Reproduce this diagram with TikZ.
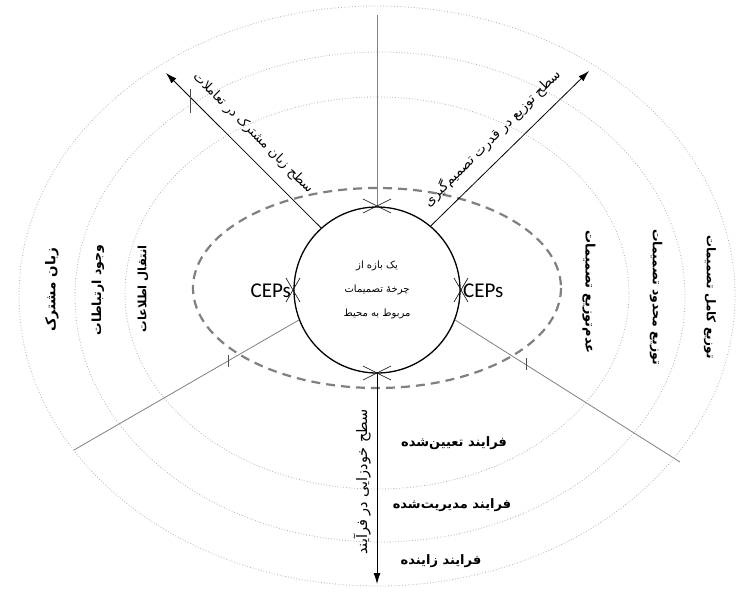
\documentclass[tikz,border=0pt]{standalone}
\usepackage{fontspec}
\usetikzlibrary{arrows.meta}
\TeXXeTstate=1
\newfontfamily\fa[Script=Arabic]{DejaVu Sans}
\newfontfamily\lat{Carlito}
\begin{document}
\begin{tikzpicture}[x=1pt,y=-1pt,
  ring/.style={gray!60, dotted, line width=0.8pt},
  dring/.style={gray, dash pattern=on 9pt off 6pt, line width=2.2pt},
  axisarrow/.style={black, line width=0.8pt, -{Latex[length=11pt,width=7pt]}},
  spoke/.style={gray, line width=0.8pt},
  xmark/.style={black, line width=0.6pt},
  tick/.style={black!70, line width=0.6pt},
  boldfa/.style={inner sep=1pt, font={\fa\bfseries\fontsize{#1}{#1}\selectfont}},
  armfa/.style={inner sep=1pt, font={\fa\fontsize{#1}{#1}\selectfont}},
  midfa/.style={inner sep=1pt, font={\fa\fontsize{10}{12}\selectfont}},
  cep/.style={inner sep=0pt, font={\lat\fontsize{21}{23}\selectfont}}
]
\fill[white] (0,0) rectangle (739,592);
\useasboundingbox (0,0) rectangle (739,592);

% concentric dotted rings
\draw[ring] (377,293) ellipse [x radius=252, y radius=196];
\draw[ring] (380,297) ellipse [x radius=305, y radius=245];
\draw[ring] (377,296) ellipse [x radius=358, y radius=290];

% dashed ellipse
\draw[dring] (377,288) ellipse [x radius=184, y radius=100];

% central circle
\node[circle, draw=black, line width=1.3pt, minimum size=166pt, inner sep=0pt] (C) at (377,290) {};

% free ends
\coordinate (topEnd) at (377,15);
\coordinate (ulTip) at (166,73);
\coordinate (urTip) at (589,71);
\coordinate (llEnd) at (74,450);
\coordinate (lrEnd) at (680,462);
\coordinate (bTip) at (377,584);

% spokes and arrows
\draw[spoke] (C.north) -- (topEnd);
\draw[spoke] (C.201) -- (llEnd);
\draw[spoke] (C.339) -- (lrEnd);
\draw[axisarrow] (C.132) -- (ulTip);
\draw[axisarrow] (C.50) -- (urTip);
\draw[axisarrow] (C.south) -- (bTip);

% ticks
\draw[tick] (190,89) -- (190,113);
\draw[tick] (228,355) -- (228,367);
\draw[tick] (526,358) -- (526,370);

% X marks on circle
\draw[xmark] (363,199) -- (391,213) (363,213) -- (391,199);
\draw[xmark] (363,366) -- (391,380) (363,380) -- (391,366);
\draw[xmark] (286,278) -- (300,302) (286,302) -- (300,278);
\draw[xmark] (454,278) -- (468,302) (454,302) -- (468,278);

% CEPs
\node[cep, anchor=east] (cepL) at (291,291) {CEPs};
\node[cep, anchor=west] (cepR) at (463,291) {CEPs};

% centre text
\node[midfa] (c1) at (377,266) {\beginR یک بازه از\endR};
\node[midfa] (c2) at (377,290) {\beginR چرخهٔ تصمیمات\endR};
\node[midfa] (c3) at (377,314) {\beginR مربوط به محیط\endR};

% axis labels
\node[armfa=13, rotate=-45] (lUL) at (253,133) {\beginR سطح زبان مشترک در تعاملات\endR};
\node[armfa=13.5, rotate=45] (lUR) at (492,138) {\beginR سطح توزیع در قدرت تصمیم‌گیری\endR};
\node[armfa=14.5, rotate=90] (lB) at (362,482) {\beginR سطح خودزایی در فرآیند\endR};

% left labels
\node[boldfa=13.5, rotate=90] (t1) at (52,290) {\beginR زبان مشترک\endR};
\node[boldfa=12.5, rotate=90] (t2) at (98,290) {\beginR وجود ارتباطات\endR};
\node[boldfa=11.5, rotate=90] (t3) at (143,289) {\beginR انتقال اطلاعات\endR};

% right labels
\node[boldfa=13, rotate=-90] (r1) at (589,292) {\beginR عدم‌توزیع تصمیمات\endR};
\node[boldfa=12.5, rotate=-90] (r2) at (656,297) {\beginR توزیع محدود تصمیمات\endR};
\node[boldfa=12, rotate=-90] (r3) at (710,297) {\beginR توزیع کامل تصمیمات\endR};

% bottom labels
\node[boldfa=13] (b1) at (454,443) {\beginR فرایند تعیین‌شده\endR};
\node[boldfa=13] (b2) at (452,505) {\beginR فرایند مدیریت‌شده\endR};
\node[boldfa=13] (b3) at (441,561) {\beginR فرایند زاینده\endR};
\end{tikzpicture}
\end{document}
